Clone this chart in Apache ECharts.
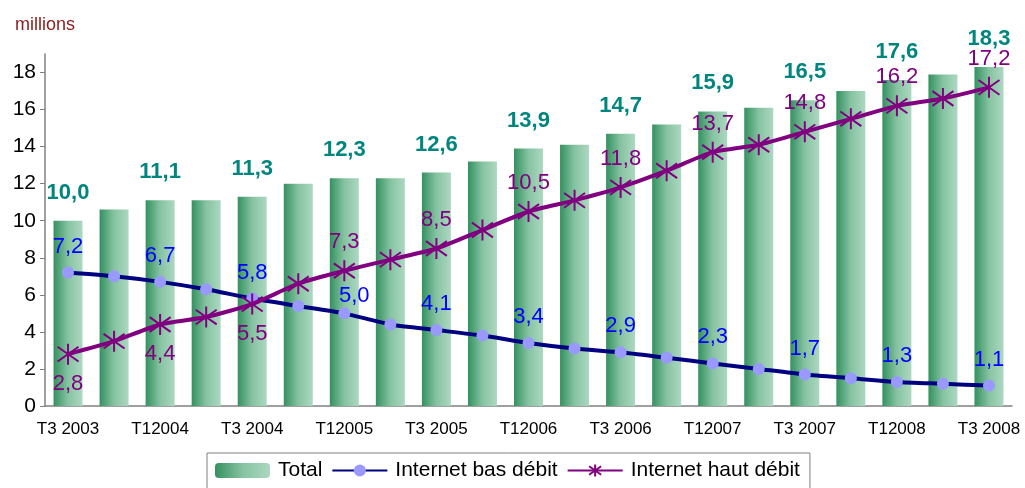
<!DOCTYPE html>
<html>
<head>
<meta charset="utf-8">
<script src="https://cdn.jsdelivr.net/npm/echarts@6/dist/echarts.min.js"></script>
<style>
html, body { margin: 0; padding: 0; background: #fff; }
#main { width: 1025px; height: 488px; }
</style>
</head>
<body>
<div id="main"></div>
<script>
// trimestres (étiquettes affichées une sur deux)
var trimestres = ['T3 2003', 'T4 2003', 'T12004', 'T2 2004', 'T3 2004', 'T4 2004', 'T12005', 'T2 2005',
	'T3 2005', 'T4 2005', 'T12006', 'T2 2006', 'T3 2006', 'T4 2006', 'T12007', 'T2 2007',
	'T3 2007', 'T4 2007', 'T12008', 'T2 2008', 'T3 2008'];
// millions d'abonnés
var total = [10.0, 10.6, 11.1, 11.1, 11.3, 12.0, 12.3, 12.3, 12.6, 13.2, 13.9, 14.1, 14.7, 15.2, 15.9, 16.1, 16.5, 17.0, 17.6, 17.9, 18.3];
var basDebit = [7.2, 7.0, 6.7, 6.3, 5.8, 5.4, 5.0, 4.4, 4.1, 3.8, 3.4, 3.1, 2.9, 2.6, 2.3, 2.0, 1.7, 1.5, 1.3, 1.2, 1.1];
var hautDebit = [2.8, 3.5, 4.4, 4.8, 5.5, 6.6, 7.3, 7.9, 8.5, 9.5, 10.5, 11.1, 11.8, 12.7, 13.7, 14.1, 14.8, 15.5, 16.2, 16.6, 17.2];
var yTicks = [0, 2, 4, 6, 8, 10, 12, 14, 16, 18];

var FONT = '"Liberation Sans", Arial, sans-serif';

// une étiquette sur deux, virgule décimale
function virgule(p) {
	if (p.dataIndex % 2 !== 0) return '';
	return p.value.toFixed(1).replace('.', ',');
}

var myChart = echarts.init(document.getElementById('main'));
var option = {
	animation: false,
	textStyle: { fontFamily: FONT },
	title: {
		text: 'millions',
		left: 10, top: 11,
		textStyle: { color: '#8b1a1a', fontSize: 18, fontWeight: 'normal', fontFamily: FONT }
	},
	grid: { left: 45, right: 13, top: 54, bottom: 82 },
	legend: {
		left: 207, top: 453,
		padding: [7, 10, 10, 8],
		borderColor: '#808080', borderWidth: 1,
		itemGap: 9,
		itemWidth: 55, itemHeight: 15,
		textStyle: { fontSize: 21, color: '#000', fontFamily: FONT, padding: [0, 0, 0, 3] },
		data: ['Total', 'Internet bas débit', 'Internet haut débit']
	},
	xAxis: {
		type: 'category',
		data: trimestres,
		axisLine: { lineStyle: { color: '#808080', width: 1.5 } },
		axisTick: { interval: 0, length: 5, lineStyle: { color: '#808080' } },
		axisLabel: { interval: 1, color: '#000', fontSize: 17, margin: 15, fontFamily: FONT }
	},
	yAxis: {
		type: 'value',
		min: 0, max: 19,
		splitLine: { show: false },
		axisLine: { show: true, lineStyle: { color: '#808080', width: 1.5 } },
		axisTick: { show: true, length: 5, customValues: yTicks, lineStyle: { color: '#808080' } },
		axisLabel: { customValues: yTicks, color: '#000', fontSize: 21, margin: 9, fontFamily: FONT }
	},
	series: [
		{
			name: 'Total',
			type: 'bar',
			data: total,
			barWidth: 29,
			itemStyle: {
				color: new echarts.graphic.LinearGradient(0, 0, 1, 0, [
					{ offset: 0, color: '#34915f' },
					{ offset: 0.5, color: '#86c3a2' },
					{ offset: 1, color: '#acd8c0' }
				])
			},
			label: {
				show: true, position: 'top', distance: 17,
				color: '#00857f', fontSize: 22, fontWeight: 'bold', fontFamily: FONT,
				formatter: virgule
			},
			z: 1
		},
		{
			name: 'Internet bas débit',
			type: 'line',
			// l'étiquette 5,0 est décalée pour ne pas chevaucher la courbe haut débit
			data: basDebit.map(function (v, i) {
				if (i === 6) return { value: v, label: { distance: 0, offset: [10, 0] } };
				return v;
			}),
			smooth: 0.2,
			symbol: 'circle',
			symbolSize: 12,
			lineStyle: { color: '#000080', width: 4 },
			itemStyle: { color: '#9999ff' },
			label: {
				show: true, position: 'top', distance: 9,
				color: '#0000ff', fontSize: 22, fontFamily: FONT,
				formatter: virgule
			},
			z: 3
		},
		{
			name: 'Internet haut débit',
			type: 'line',
			// les trois premières étiquettes sont sous la courbe
			data: hautDebit.map(function (v, i) {
				if (i <= 4) return { value: v, label: { position: 'bottom', distance: 7 } };
				return v;
			}),
			smooth: 0.2,
			symbol: 'path://M0,-10L0,10M-9,-7L9,7M-9,7L9,-7',
			symbolSize: 21,
			lineStyle: { color: '#800080', width: 4 },
			itemStyle: { color: '#800080', borderColor: '#800080', borderWidth: 2 },
			label: {
				show: true, position: 'top', distance: 6,
				color: '#800080', fontSize: 22, fontFamily: FONT,
				formatter: virgule
			},
			z: 4
		}
	]
};
myChart.setOption(option);
</script>
</body>
</html>
